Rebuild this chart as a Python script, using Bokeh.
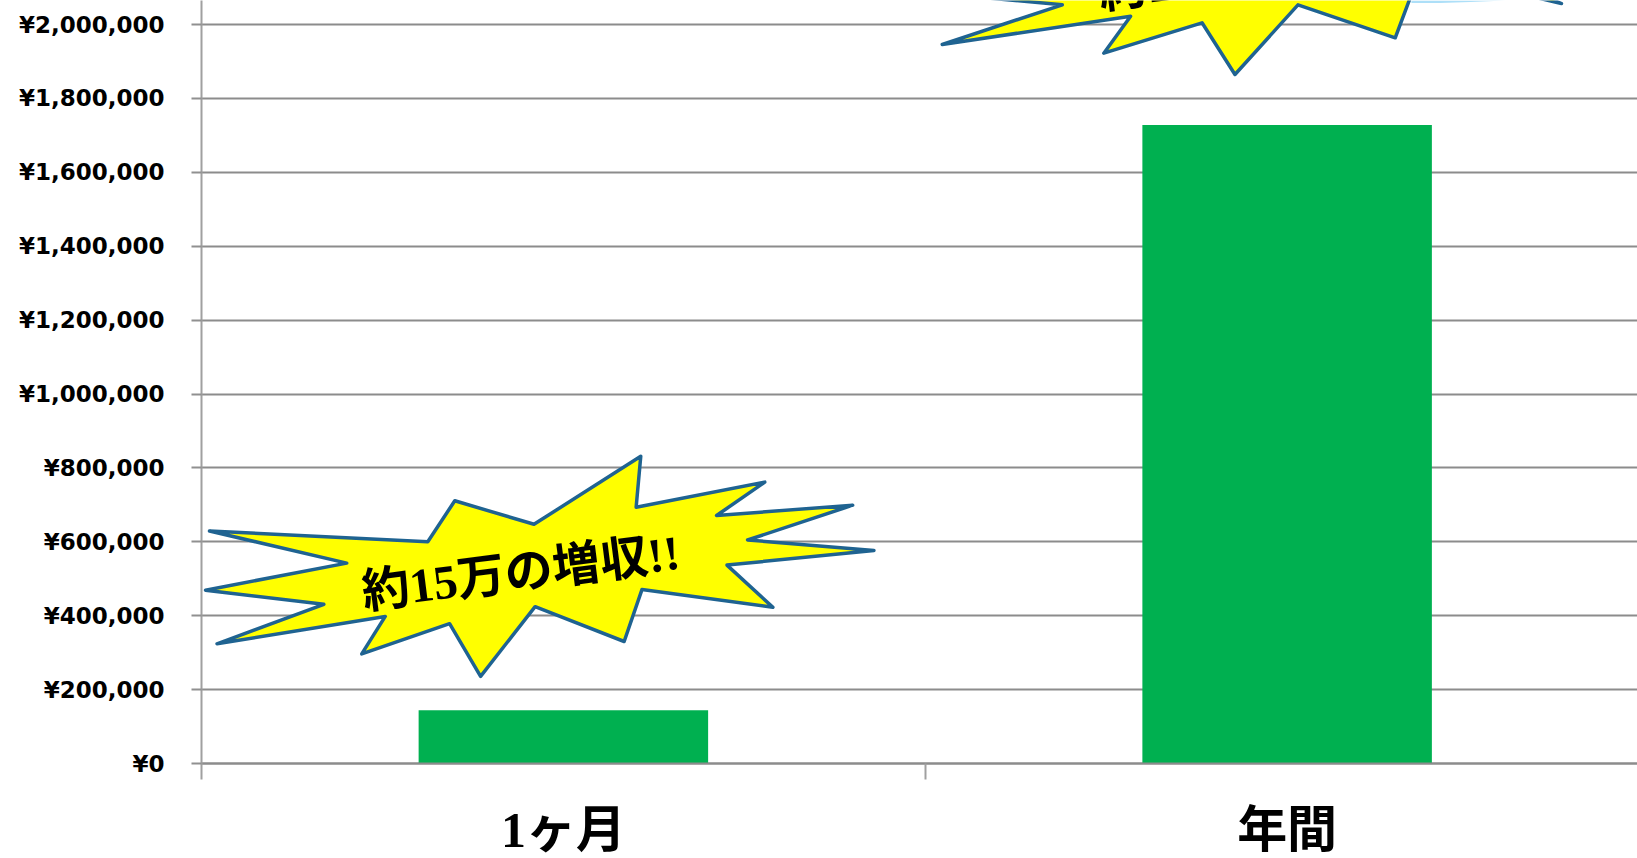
from bokeh.core.properties import value
from bokeh.embed import file_html
from bokeh.models import FixedTicker, Range1d
from bokeh.plotting import figure
from bokeh.resources import INLINE

# Income gain per period, in yen
periods = ["1ヶ月", "年間"]
period_pos = [0.5, 1.5]
gain = [144000, 1728000]
tick_values = [0, 200000, 400000, 600000, 800000, 1000000, 1200000, 1400000, 1600000, 1800000, 2000000]
tick_labels = ["¥0", "¥200,000", "¥400,000", "¥600,000", "¥800,000", "¥1,000,000",
               "¥1,200,000", "¥1,400,000", "¥1,600,000", "¥1,800,000", "¥2,000,000"]
callouts = ["約15万の増収!!", "約173万の増収!!"]

# Starburst callout outlines, given as page pixels (x, y)
burst_month = [(209.5, 530.5), (427.7, 541.2), (454.7, 500.3), (533.9, 523.8), (640.6, 455.8), (636, 506.7),
               (764.6, 481.6), (716.4, 515), (852.5, 504.7), (747.4, 539.5), (873.7, 549.9), (726.8, 564.6),
               (772.7, 606.8), (641.8, 589.1), (624, 641), (535, 606.2), (480.5, 675.8), (449.5, 623.2),
               (361.7, 653.4), (385.2, 615.9), (217, 643.3), (323.8, 603.8), (205.5, 589.7), (346.7, 562.6)]
burst_year = [(942, 44), (1130.3, 15.7), (1103.5, 52.7), (1201.7, 22.3), (1234.6, 74), (1297.6, 4.3),
              (1394.8, 37.3), (1420, -30), (1561, 3), (1480, -30), (1300, -60), (1100, -60), (960, -5), (1062, 4.3)]
sky_sliver = [(1411, 0), (1505, 0), (1470, 1.6), (1440, 2.4), (1411, 2.6)]

AXIS_X, CATEGORY_PX = 201.5, 723.5
ZERO_Y, STEP_PX = 763.0, 73.9


def to_x(px):
    return (px - AXIS_X) / CATEGORY_PX


def to_y(py):
    return (ZERO_Y - py) / STEP_PX * 200000


# The plot area runs to the bottom of the page, with the category axis pinned at zero inside it
p = figure(width=1637, height=858, output_backend="svg", toolbar_location=None,
           x_range=Range1d(0, to_x(1637)), y_range=Range1d(to_y(858), to_y(0)),
           min_border_left=201, min_border_right=0, min_border_top=0, min_border_bottom=0,
           outline_line_color=None, background_fill_color="white", border_fill_color="white")

# Value axis
p.yaxis.bounds = (to_y(779), to_y(0))
p.yaxis.ticker = FixedTicker(ticks=tick_values)
p.yaxis.major_label_overrides = dict(zip(tick_values, tick_labels))
p.yaxis.major_label_text_font = "DejaVu Sans"
p.yaxis.major_label_text_font_style = "bold"
p.yaxis.major_label_text_font_size = "23px"
p.yaxis.major_label_text_color = "#000000"
p.yaxis.major_label_standoff = 27
p.yaxis.major_tick_in = 0
p.yaxis.major_tick_out = 10
p.yaxis.minor_tick_line_color = None
p.yaxis.axis_line_color = "#A0A0A0"
p.yaxis.axis_line_width = 2
p.yaxis.major_tick_line_color = "#909090"
p.yaxis.major_tick_line_width = 2

# Category axis: labels sit mid-category, tick marks on the category boundaries
p.xaxis.fixed_location = 0
p.xaxis.ticker = FixedTicker(ticks=period_pos, minor_ticks=[1, 2])
p.xaxis.major_label_overrides = dict(zip(period_pos, periods))
p.xaxis.major_label_text_font = "Liberation Serif, Noto Sans CJK JP"
p.xaxis.major_label_text_font_style = "bold"
p.xaxis.major_label_text_font_size = "50px"
p.xaxis.major_label_text_line_height = 1.0
p.xaxis.major_label_text_color = "#000000"
p.xaxis.major_label_standoff = 22
p.xaxis.major_tick_in = 0
p.xaxis.major_tick_out = 0
p.xaxis.minor_tick_in = 0
p.xaxis.minor_tick_out = 16
p.xaxis.minor_tick_line_color = "#A0A0A0"
p.xaxis.minor_tick_line_width = 2
p.xaxis.axis_line_color = "#8C8C8C"
p.xaxis.axis_line_width = 2

p.xgrid.visible = False
p.ygrid.ticker = FixedTicker(ticks=tick_values)
p.ygrid.grid_line_color = "#8C8C8C"
p.ygrid.grid_line_width = 2

p.vbar(x=period_pos, top=gain, bottom=0, width=0.4, fill_color="#00B050", line_color=None)

# Starburst callouts
for outline in (burst_month, burst_year):
    p.patch([to_x(x) for x, _ in outline], [to_y(y) for _, y in outline],
            fill_color="#FFFF00", line_color="#1F6391", line_width=3.5, line_join="round")
p.patch([to_x(x) for x, _ in sky_sliver], [to_y(y) for _, y in sky_sliver],
        fill_color="#ADDFF8", line_color=None)

ANGLE = 0.127
p.text(x=[to_x(362), to_x(1098)], y=[to_y(592), to_y(-8)], text=callouts, angle=ANGLE,
       text_font=value("Liberation Serif, Noto Sans CJK JP"), text_font_style="bold",
       text_font_size="48px", text_color="#000000", text_align="left", text_baseline="middle")

open("out.html", "w").write(file_html(p, INLINE))
